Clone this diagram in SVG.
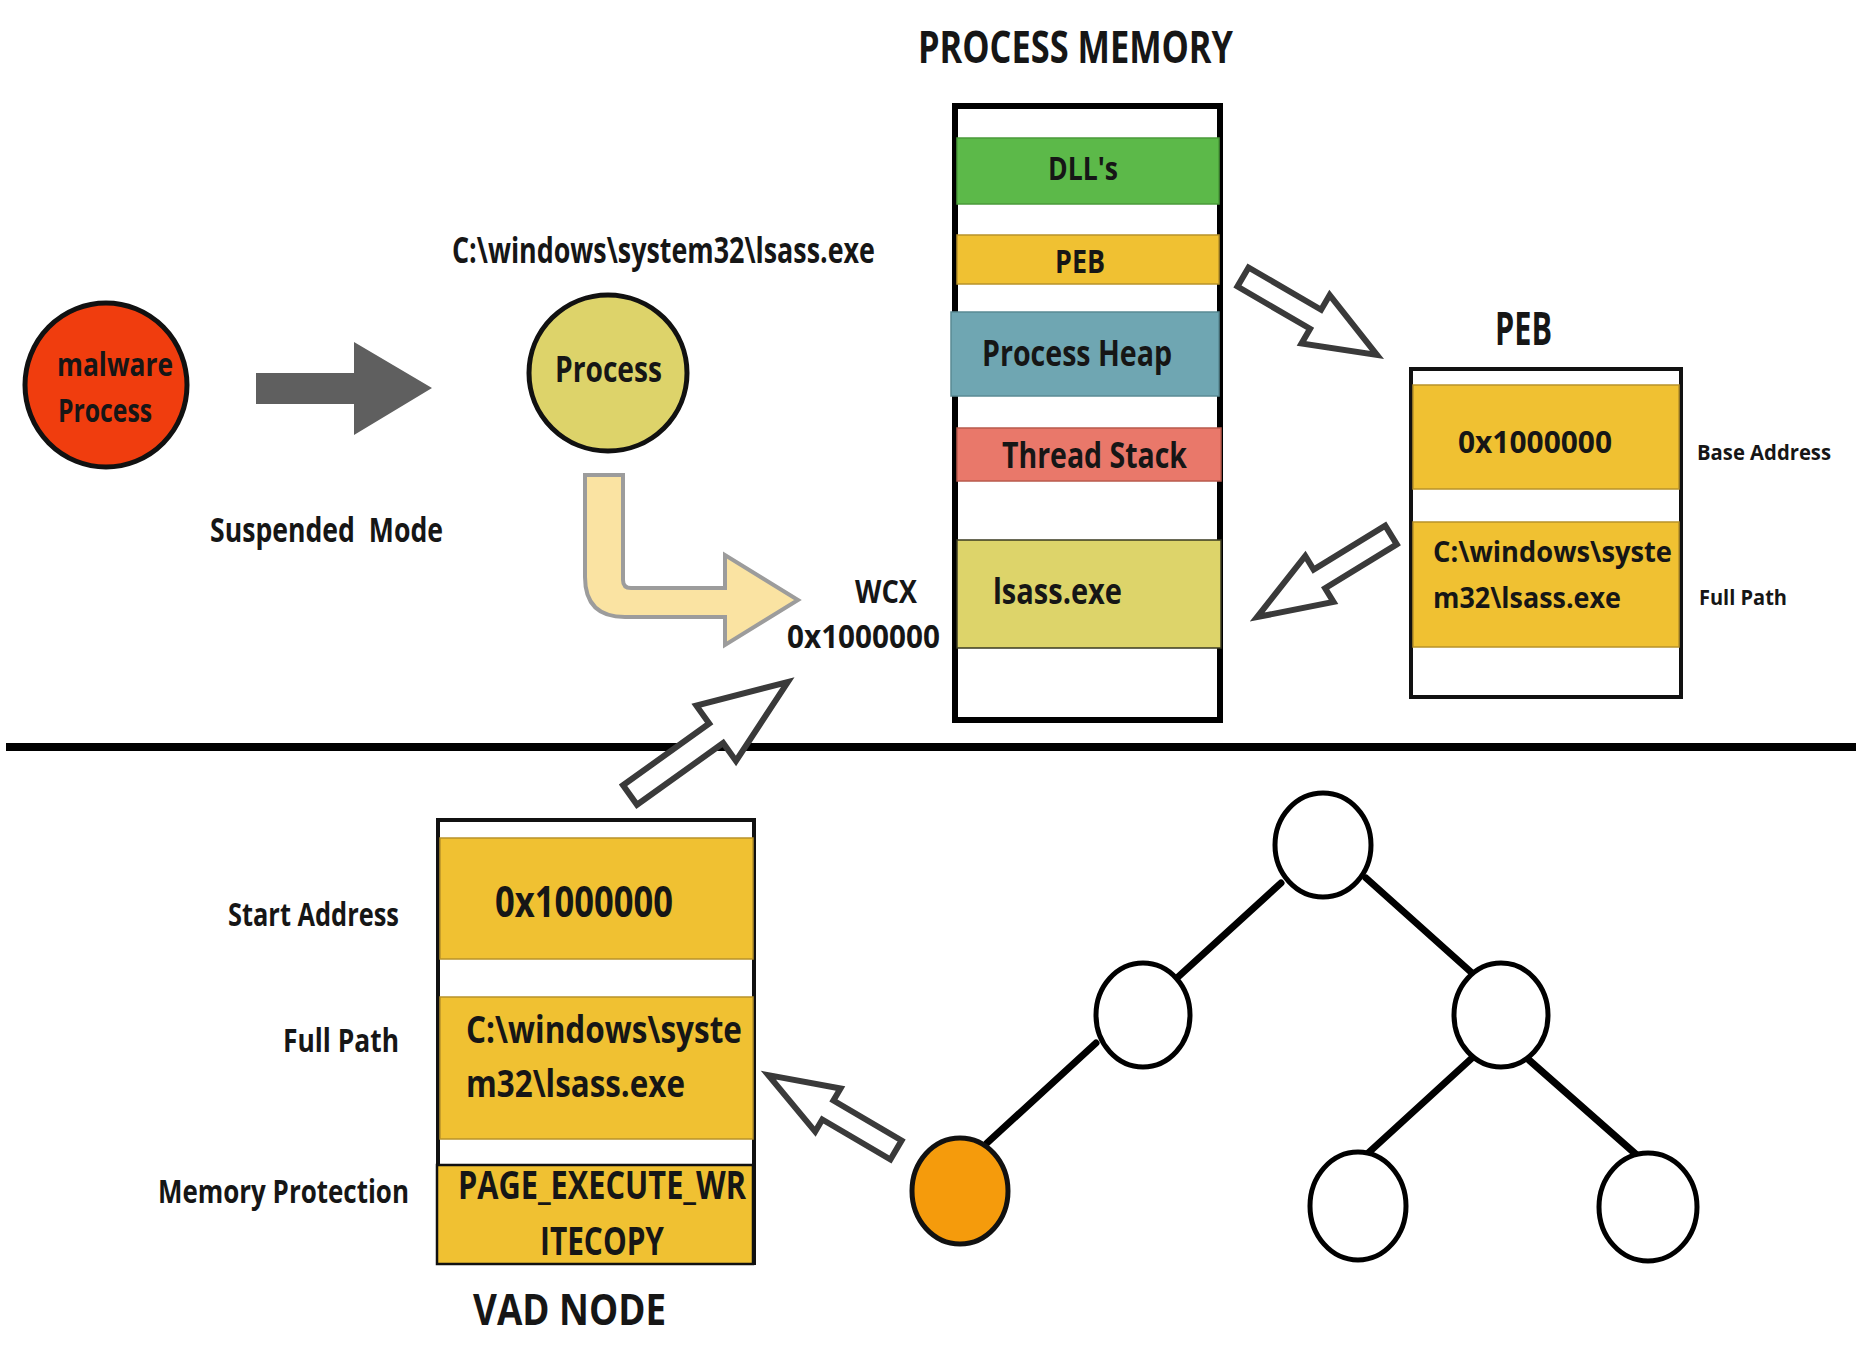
<svg xmlns="http://www.w3.org/2000/svg" width="1863" height="1350" viewBox="0 0 1863 1350">
  <style>
    text { font-family: "Open Sans", "Liberation Sans", sans-serif; font-weight: bold; fill: #161616; }
    .outline { stroke: #111; stroke-width: 5; }
    .band { stroke-width: 1.5; }
    .orange { fill: #f0c132; stroke: #b8922a; }
    .hollow { fill: #fff; stroke: #3a3a3a; stroke-width: 6; stroke-linejoin: miter; }
    .edge { stroke: #000; stroke-width: 7; stroke-linecap: round; }
    .vnode { fill: #fff; stroke: #000; stroke-width: 5; }
  </style>
  <defs>
    <!-- hollow block arrow pointing +x, length 155 -->
    <polygon id="arrowA" points="0,-11 84,-11 84,-28 155,0 84,28 84,11 0,11"/>
  </defs>

  <rect width="1863" height="1350" fill="#fff"/>

  <!-- divider between process view and kernel view -->
  <line x1="6" y1="747" x2="1856" y2="747" stroke="#000" stroke-width="8"/>

  <!-- malware process -->
  <g id="malware">
    <ellipse cx="106" cy="385" rx="81" ry="82" fill="#f03d0e" class="outline"/>
    <text x="57" y="376" font-size="32" textLength="116" lengthAdjust="spacingAndGlyphs">malware</text>
    <text x="58" y="422" font-size="32" textLength="94" lengthAdjust="spacingAndGlyphs">Process</text>
  </g>

  <text id="suspended" x="210" y="542" font-size="34" textLength="233" lengthAdjust="spacingAndGlyphs" xml:space="preserve">Suspended  Mode</text>

  <!-- target process -->
  <g id="process">
    <text x="452" y="263" font-size="35" textLength="423" lengthAdjust="spacingAndGlyphs">C:\windows\system32\lsass.exe</text>
    <ellipse cx="608" cy="373" rx="79" ry="78" fill="#ddd36a" class="outline"/>
    <text x="555" y="382" font-size="36" textLength="107" lengthAdjust="spacingAndGlyphs">Process</text>
  </g>

  <g id="wcx">
    <text x="855" y="603" font-size="33" textLength="62" lengthAdjust="spacingAndGlyphs">WCX</text>
    <text x="787" y="648" font-size="33" textLength="153" lengthAdjust="spacingAndGlyphs">0x1000000</text>
  </g>

  <!-- process memory layout -->
  <g id="process-memory">
    <text x="918" y="63" font-size="44" textLength="315" lengthAdjust="spacingAndGlyphs">PROCESS MEMORY</text>
    <rect x="955" y="106" width="265" height="614" fill="#fff" stroke="#000" stroke-width="6"/>
    <rect x="957" y="138" width="262" height="66" fill="#5cb949" stroke="#4a9a3a" class="band"/>
    <text x="1048" y="180" font-size="33" textLength="70" lengthAdjust="spacingAndGlyphs">DLL's</text>
    <rect x="957" y="235" width="262" height="49" class="orange band"/>
    <text x="1055" y="273" font-size="33" textLength="50" lengthAdjust="spacingAndGlyphs">PEB</text>
    <rect x="951" y="312" width="268" height="84" fill="#6fa6b2" stroke="#5a8a94" class="band"/>
    <text x="982" y="366" font-size="35" textLength="190" lengthAdjust="spacingAndGlyphs">Process Heap</text>
    <rect x="957" y="428" width="264" height="53" fill="#e9786a" stroke="#b85a4c" class="band"/>
    <text x="1002" y="468" font-size="35" textLength="185" lengthAdjust="spacingAndGlyphs">Thread Stack</text>
    <rect x="957" y="540" width="264" height="108" fill="#ddd46a" stroke="#3a3a20" class="band"/>
    <text x="993" y="604" font-size="35" textLength="129" lengthAdjust="spacingAndGlyphs">lsass.exe</text>
  </g>

  <!-- PEB structure -->
  <g id="peb">
    <text x="1495" y="345" font-size="46" textLength="57" lengthAdjust="spacingAndGlyphs">PEB</text>
    <rect x="1411" y="369" width="270" height="328" fill="#fff" stroke="#111" stroke-width="4"/>
    <rect x="1413" y="385" width="266" height="104" class="orange band"/>
    <text x="1458" y="453" font-size="31" textLength="154" lengthAdjust="spacingAndGlyphs">0x1000000</text>
    <rect x="1413" y="522" width="266" height="125" class="orange band"/>
    <text x="1433" y="562" font-size="29" textLength="239" lengthAdjust="spacingAndGlyphs">C:\windows\syste</text>
    <text x="1433" y="608" font-size="29" textLength="188" lengthAdjust="spacingAndGlyphs">m32\lsass.exe</text>
    <text x="1697" y="460" font-size="22" textLength="134" lengthAdjust="spacingAndGlyphs">Base Address</text>
    <text x="1699" y="605" font-size="22" textLength="88" lengthAdjust="spacingAndGlyphs">Full Path</text>
  </g>

  <!-- VAD node -->
  <g id="vad-node">
    <rect x="438" y="820" width="316" height="443" fill="#fff" stroke="#111" stroke-width="4"/>
    <rect x="440" y="838" width="313" height="121" class="orange band"/>
    <text x="495" y="917" font-size="43" textLength="178" lengthAdjust="spacingAndGlyphs">0x1000000</text>
    <rect x="440" y="997" width="313" height="142" class="orange band"/>
    <text x="466" y="1043" font-size="37" textLength="276" lengthAdjust="spacingAndGlyphs">C:\windows\syste</text>
    <text x="466" y="1097" font-size="37" textLength="219" lengthAdjust="spacingAndGlyphs">m32\lsass.exe</text>
    <rect x="437" y="1165" width="316" height="99" fill="#f0c132" stroke="#111" stroke-width="2.5"/>
    <text x="458" y="1199" font-size="39" textLength="288" lengthAdjust="spacingAndGlyphs">PAGE_EXECUTE_WR</text>
    <text x="540" y="1255" font-size="39" textLength="124" lengthAdjust="spacingAndGlyphs">ITECOPY</text>
    <text x="228" y="926" font-size="33" textLength="171" lengthAdjust="spacingAndGlyphs">Start Address</text>
    <text x="283" y="1052" font-size="33" textLength="116" lengthAdjust="spacingAndGlyphs">Full Path</text>
    <text x="158" y="1203" font-size="33" textLength="251" lengthAdjust="spacingAndGlyphs">Memory Protection</text>
    <text x="473" y="1325" font-size="43" textLength="193" lengthAdjust="spacingAndGlyphs">VAD NODE</text>
  </g>

  <!-- VAD tree -->
  <g id="vad-tree">
    <g id="tree-edges">
      <line x1="1281" y1="883" x2="1178" y2="977" class="edge"/>
      <line x1="1366" y1="878" x2="1472" y2="973" class="edge"/>
      <line x1="1096" y1="1043" x2="987" y2="1143" class="edge"/>
      <line x1="1472" y1="1058" x2="1366" y2="1155" class="edge"/>
      <line x1="1529" y1="1060" x2="1639" y2="1157" class="edge"/>
    </g>
    <ellipse id="tree-root" cx="1323" cy="845" rx="48" ry="52" class="vnode"/>
    <ellipse id="tree-left" cx="1143" cy="1015" rx="47" ry="52" class="vnode"/>
    <ellipse id="tree-right" cx="1501" cy="1015" rx="47" ry="52" class="vnode"/>
    <ellipse id="tree-target" cx="960" cy="1191" rx="48" ry="53" fill="#f59b0c" stroke="#111" stroke-width="5"/>
    <ellipse id="tree-right-left" cx="1358" cy="1206" rx="48" ry="54" class="vnode"/>
    <ellipse id="tree-right-right" cx="1648" cy="1207" rx="49" ry="54" class="vnode"/>
  </g>

  <!-- connectors -->
  <g id="connectors">
    <polygon points="256,373 354,373 354,342 432,388 354,435 354,404 256,404" fill="#5f5f5f"/>
    <path d="M585,475 L623,475 L623,580 Q623,588 631,588 L725,588 L725,555 L798,600 L725,645 L725,617 L625,617 Q585,617 585,577 Z" fill="#fae3a2" stroke="#9c9c9c" stroke-width="4" stroke-linejoin="miter"/>
    <use href="#arrowA" class="hollow" transform="translate(1243,277) rotate(30.2)"/>
    <polygon class="hollow" transform="translate(1391,535) rotate(148.5)" points="0,-11 84,-11 84,-27 157,0 84,27 84,11 0,11"/>
    <polygon class="hollow" transform="translate(630,795) rotate(-35.6)" points="0,-12 106,-12 106,-34 194,0 106,34 106,12 0,12"/>
    <polygon class="hollow" transform="translate(896,1150) rotate(210.4)" points="0,-11 79,-11 79,-25 148,0 79,25 79,11 0,11"/>
  </g>
</svg>
